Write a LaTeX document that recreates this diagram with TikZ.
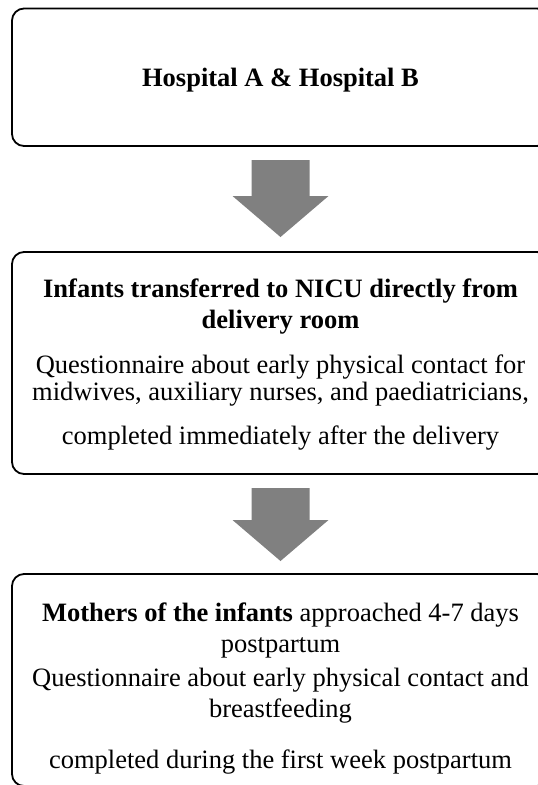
\documentclass[tikz,border=0pt]{standalone}
\usepackage{fontspec}
\setmainfont{Liberation Serif}
\usetikzlibrary{calc}
\tikzset{
  box/.style={draw=black, line width=1.8pt, rounded corners=12pt},
  txt/.style={anchor=base, inner sep=0pt, font=\fontsize{26.5}{30}\selectfont},
  btxt/.style={txt, font=\fontsize{26.5}{30}\selectfont\bfseries},
  fatarrow/.style={fill=arrowgray, draw=none},
}
\definecolor{arrowgray}{RGB}{128,128,128}
\begin{document}
\begin{tikzpicture}[x=1pt,y=-1pt]
\clip (0,0) rectangle (538,785);
\fill[white] (0,0) rectangle (538,785);
% boxes
\draw[box] (12,8.5) rectangle (549,146) node[pos=0.5, inner sep=0pt] (b1) {};
\draw[box] (12,252) rectangle (549,474) node[pos=0.5, inner sep=0pt] (b2) {};
\draw[box] (12,574) rectangle (549,786) node[pos=0.5, inner sep=0pt] (b3) {};
% texts
\node[btxt] (t1) at (280.5,86.5) {Hospital A \& Hospital B};
\node[btxt] (t2a) at (280.5,297) {Infants transferred to NICU directly from};
\node[btxt] (t2b) at (280.5,328) {delivery room};
\node[txt] (t2c) at (280.5,373) {Questionnaire about early physical contact for};
\node[txt] (t2d) at (280.5,400) {midwives, auxiliary nurses, and paediatricians,};
\node[txt] (t2e) at (280.5,444) {completed immediately after the delivery};
\node[txt] (t3a) at (280.5,621) {\textbf{Mothers of the infants} approached 4-7 days};
\node[txt] (t3b) at (280.5,652) {postpartum};
\node[txt] (t3c) at (280.5,686) {Questionnaire about early physical contact and};
\node[txt] (t3d) at (280.5,717) {breastfeeding};
\node[txt] (t3e) at (280.5,768) {completed during the first week postpartum};
% arrows
\coordinate (a1) at (280.5,160);
\coordinate (a2) at (280.5,488);
\foreach \a/\len in {a1/77, a2/73}{
  \fill[fatarrow] ($(\a)+(-29,0)$) -- ($(\a)+(29,0)$) -- ($(\a)+(29,\len-41)$)
    -- ($(\a)+(48,\len-41)$) -- ($(\a)+(0,\len)$) -- ($(\a)+(-48,\len-41)$)
    -- ($(\a)+(-29,\len-41)$) -- cycle;
}
\end{tikzpicture}
\end{document}
